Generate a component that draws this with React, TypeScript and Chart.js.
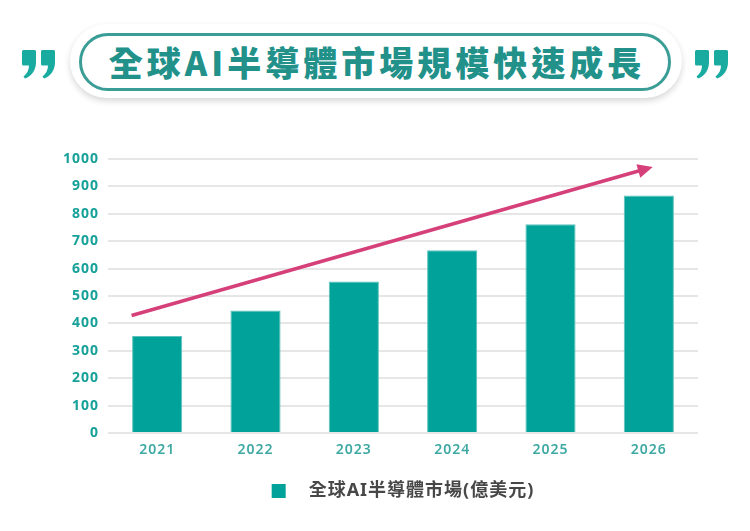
import React, { useEffect, useRef } from "react";
import { Chart, registerables } from "chart.js";

Chart.register(...registerables);

// chart values
const years = ["2021", "2022", "2023", "2024", "2025", "2026"];
const marketValues = [354, 447, 553, 667, 762, 867];
const seriesName = "全球AI半導體市場(億美元)";
const yTicks = [0, 100, 200, 300, 400, 500, 600, 700, 800, 900, 1000];
// trend arrow, in [category index, value]
const arrowFrom = [-0.26, 429];
const arrowTo = [5.04, 971];

const TITLE = "全球AI半導體市場規模快速成長";
const TEAL = "#00a29a";
const PINK = "#d6407a";
const FONT = '"Noto Sans", "Noto Sans CJK TC", sans-serif';

// keeps the slightly spaced-out text look
const spacingPlugin = {
  id: "spacing",
  beforeUpdate(chart: any) {
    chart.ctx.letterSpacing = "1px";
  },
  beforeDraw(chart: any) {
    chart.ctx.letterSpacing = "1px";
  },
};

const arrowPlugin = {
  id: "trendArrow",
  afterDatasetsDraw(chart: any) {
    const { ctx, scales } = chart;
    const x0 = scales.x.getPixelForValue(arrowFrom[0]);
    const y0 = scales.y.getPixelForValue(arrowFrom[1]);
    const x1 = scales.x.getPixelForValue(arrowTo[0]);
    const y1 = scales.y.getPixelForValue(arrowTo[1]);
    const ang = Math.atan2(y1 - y0, x1 - x0);
    const headLen = 15;
    const headHalf = 7;
    const bx = x1 - Math.cos(ang) * headLen;
    const by = y1 - Math.sin(ang) * headLen;

    ctx.save();
    ctx.strokeStyle = PINK;
    ctx.fillStyle = PINK;
    ctx.lineWidth = 3.5;
    ctx.beginPath();
    ctx.moveTo(x0, y0);
    ctx.lineTo(bx + Math.cos(ang) * 2, by + Math.sin(ang) * 2);
    ctx.stroke();
    ctx.beginPath();
    ctx.moveTo(x1, y1);
    ctx.lineTo(bx + Math.sin(ang) * headHalf, by - Math.cos(ang) * headHalf);
    ctx.lineTo(bx - Math.sin(ang) * headHalf, by + Math.cos(ang) * headHalf);
    ctx.closePath();
    ctx.fill();
    ctx.restore();
  },
};

const QuoteMark: React.FC<{ left: number }> = ({ left }) => {
  const mark = "M1.5,0 H12.5 Q14,0 14,1.5 V12 C14,20 10,26 3,28.5 L1.5,26.5 C5,24 7,20 7,15.5 H1.5 Q0,15.5 0,14 V1.5 Q0,0 1.5,0 Z";
  return (
    <svg
      width={36}
      height={30}
      style={{ position: "absolute", left, top: 50 }}
    >
      <path d={mark} fill="#19aaa0" />
      <path d={mark} fill="#19aaa0" transform="translate(19,0)" />
    </svg>
  );
};

const App: React.FC = () => {
  const chartRef = useRef<HTMLCanvasElement | null>(null);
  const chartInstance = useRef<Chart | null>(null);

  useEffect(() => {
    if (chartInstance.current) {
      chartInstance.current.destroy();
    }
    if (!chartRef.current) return;

    chartInstance.current = new Chart(chartRef.current, {
      type: "bar",
      data: {
        labels: years,
        datasets: [
          {
            label: seriesName,
            data: marketValues,
            backgroundColor: TEAL,
            borderColor: "#5cc2bb",
            borderWidth: 1,
            borderSkipped: "bottom",
            barPercentage: 0.51,
            categoryPercentage: 1,
          },
        ],
      },
      options: {
        responsive: false,
        animation: false,
        layout: { padding: { top: 49, right: 52, bottom: 21, left: 0 } },
        plugins: {
          tooltip: { enabled: false },
          legend: {
            position: "bottom",
            fullSize: false,
            labels: {
              boxWidth: 14,
              boxHeight: 14,
              padding: 10,
              color: "#474747",
              font: { family: FONT, size: 18, weight: "bold" },
              generateLabels: (chart: any) =>
                chart.data.datasets.map((ds: any, i: number) => ({
                  text: "\u2002\u2009" + ds.label,
                  fillStyle: TEAL,
                  strokeStyle: TEAL,
                  lineWidth: 0,
                  datasetIndex: i,
                  fontColor: "#474747",
                })),
            },
          },
        },
        scales: {
          x: {
            grid: { display: false },
            border: { display: false },
            ticks: {
              color: "#3ea9a2",
              padding: 1,
              font: { family: FONT, size: 14, weight: 600 },
            },
            afterFit: (axis: any) => {
              axis.height = 39;
            },
          },
          y: {
            min: 0,
            max: 1000,
            border: { display: false },
            grid: { color: "#e6e6e6", lineWidth: 2, drawTicks: false },
            afterBuildTicks: (axis: any) => {
              axis.ticks = yTicks.map((v) => ({ value: v }));
            },
            ticks: {
              color: "#17a199",
              padding: 9,
              font: { family: FONT, size: 14, weight: "bold" },
              callback: (v: any) => String(v),
            },
            afterFit: (axis: any) => {
              axis.width = 108;
            },
          },
        },
      },
      plugins: [spacingPlugin, arrowPlugin],
    } as any);

    return () => {
      if (chartInstance.current) {
        chartInstance.current.destroy();
        chartInstance.current = null;
      }
    };
  }, []);

  return (
    <div
      style={{
        position: "absolute",
        left: 0,
        top: 0,
        width: 750,
        height: 531,
        background: "#fff",
        overflow: "hidden",
        fontFamily: FONT,
      }}
    >
      <QuoteMark left={22} />
      <QuoteMark left={695} />
      {/* white pill with soft shadow */}
      <div
        style={{
          position: "absolute",
          left: 70,
          top: 24,
          width: 612,
          height: 74,
          borderRadius: 37,
          background: "#fff",
          boxShadow: "0 3px 6px rgba(0,0,0,0.16)",
        }}
      />
      <div
        style={{
          position: "absolute",
          left: 79,
          top: 33,
          width: 592,
          height: 58,
          boxSizing: "border-box",
          border: "3px solid #3a9d96",
          borderRadius: 29,
          display: "flex",
          alignItems: "center",
          justifyContent: "center",
        }}
      >
        <span
          style={{
            fontFamily: '"Noto Sans CJK TC", sans-serif',
            fontWeight: 900,
            fontSize: 34,
            letterSpacing: 4,
            color: "#22918a",
            lineHeight: 1,
            marginLeft: 4,
          }}
        >
          {TITLE}
        </span>
      </div>
      <canvas
        ref={chartRef}
        width={750}
        height={421}
        style={{ position: "absolute", left: 0, top: 110 }}
      />
    </div>
  );
};

export default App;
